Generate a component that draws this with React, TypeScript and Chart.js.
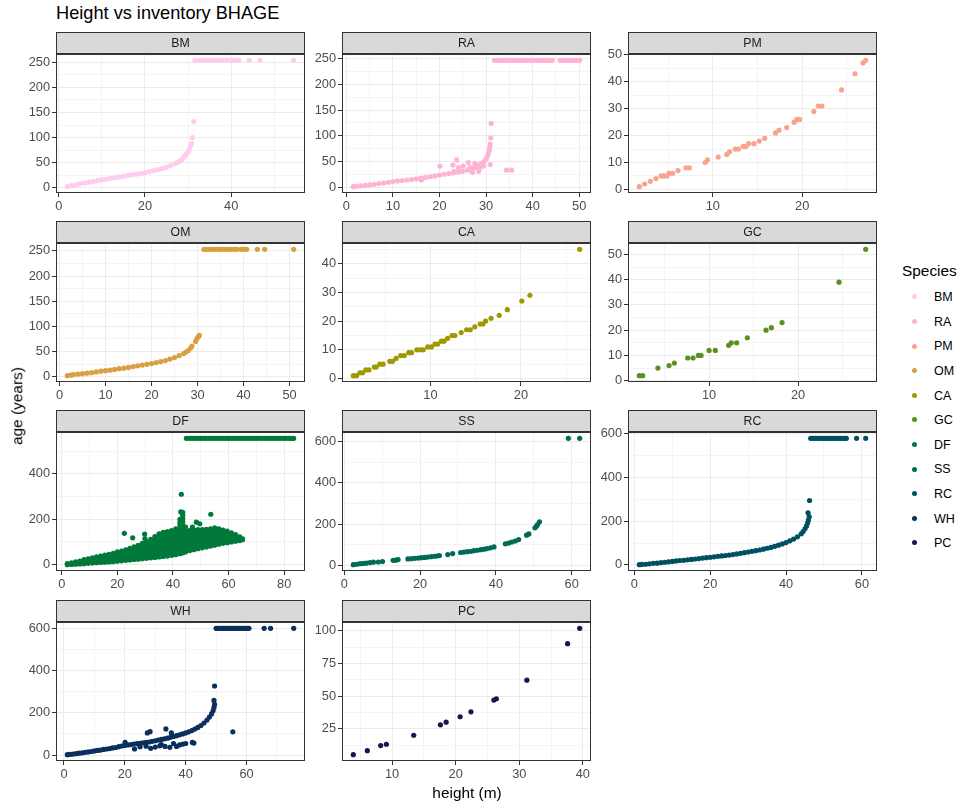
import React, { useEffect, useRef } from "react";
import { Chart, registerables } from "chart.js";
Chart.register(...registerables);

// ---------------- data ----------------
const SPECIES = ["BM", "RA", "PM", "OM", "CA", "GC", "DF", "SS", "RC", "WH", "PC"];
const COLORS = ["#FFCCF0", "#FFB3D4", "#F8A38D", "#D8A03E", "#9E9900", "#5A8F21", "#00793A", "#006B56", "#004F63", "#0A2F5C", "#1C1351"];

const BM_PTS = [
  [2, 2], [3, 4], [4, 6], [5, 8], [6, 9], [7, 11], [8, 12.5], [9, 14], [10, 16], [11, 17], [12, 19], [13, 20],
  [14, 21.5], [15, 23], [16, 24.5], [17, 26], [18, 27], [19, 28.5], [20, 30], [21, 32], [22, 34], [23, 36], [24, 38],
  [25, 41], [26, 44], [27, 48], [27.5, 50], [28, 53], [28.5, 56], [29, 61], [29.5, 66], [30, 72], [30.3, 77], [30.6, 84],
  [30.8, 88], [31, 100], [31.3, 132],
  [31.6, 254], [32.2, 254], [32.8, 254], [33.4, 254], [34, 254], [34.6, 254], [35.2, 254], [35.8, 254], [36.4, 254],
  [37, 254], [37.6, 254], [38.2, 254], [38.8, 254], [39.4, 254], [40, 254], [40.6, 254], [41.2, 254], [41.8, 254],
  [44.2, 254], [46.7, 254], [54.5, 254],
];

const RA_PTS = [
  [1.5, 1], [2, 1.5], [3, 2.5], [4, 3.5], [5, 4.5], [6, 5.5], [7, 7], [8, 8], [9, 9.5], [10, 11], [11, 12], [12, 13],
  [13, 14], [14, 15], [15, 16], [16, 17.5], [17, 19], [18, 20.5], [19, 22], [20, 23.5], [21, 25], [22, 26.5], [23, 28],
  [24, 29.5], [25, 31], [26, 33], [26.5, 34.5], [27, 36], [27.5, 38], [28, 40], [28.5, 43], [29, 46], [29.5, 50], [30, 55],
  [30.3, 60], [30.5, 66], [30.7, 72], [30.8, 78], [30.9, 84], [31, 96], [31.1, 124],
  [16.1, 14], [20.1, 41], [22.9, 43], [23.1, 31], [23.7, 53], [24.1, 38], [24.8, 31], [25.1, 41], [26.2, 48],
  [26.6, 38], [27.1, 29], [27.6, 46], [28, 41], [28.4, 31], [28.7, 38], [29.4, 41], [30.9, 44], [34.4, 33], [35.5, 33],
  [31.8, 246.7], [32.4, 246.7], [33, 246.7], [33.6, 246.7], [34.2, 246.7], [34.8, 246.7], [35.4, 246.7], [36, 246.7],
  [36.6, 246.7], [37.2, 246.7], [37.8, 246.7], [38.4, 246.7], [39, 246.7], [39.6, 246.7], [40.2, 246.7], [40.8, 246.7],
  [41.4, 246.7], [42, 246.7], [42.6, 246.7], [43.2, 246.7], [43.8, 246.7], [44.2, 246.7], [45.9, 246.7], [46.4, 246.7],
  [47, 246.7], [47.6, 246.7], [48.2, 246.7], [48.8, 246.7], [49.4, 246.7], [50.1, 246.7],
];

const PM_PTS = [
  [1.77, 1], [2.37, 2], [3.0, 3], [3.64, 4], [4.2, 5], [4.5, 5], [4.85, 5], [5.1, 6], [5.5, 6], [6.1, 7], [6.99, 8],
  [7.36, 8], [9.14, 10], [9.4, 11], [10.6, 12], [11.56, 13], [11.86, 14], [12.5, 15], [12.86, 15], [13.4, 16],
  [13.7, 16], [14, 17], [14.6, 17], [15.2, 18], [15.8, 19], [17.0, 21], [17.4, 22], [18.26, 23], [19.1, 25],
  [19.4, 26], [19.7, 26], [21.3, 29], [21.8, 31], [22.2, 31], [24.4, 37], [25.9, 43], [26.8, 47], [27.1, 48],
];

const OM_PTS = [
  [1.7, 2], [2.5, 3], [3, 4], [4, 5], [5, 6], [6, 7], [7, 8], [8, 9.5], [9, 11], [10, 12], [11, 13], [12, 14.5],
  [13, 16], [14, 17], [15, 18.5], [16, 20], [17, 21.5], [18, 23], [19, 24.5], [20, 26], [21, 28], [22, 30], [23, 32],
  [24, 35], [25, 38], [26, 42], [27, 46], [27.5, 49], [28, 52], [28.5, 57], [28.8, 61], [29.6, 70], [29.9, 76],
  [30.2, 80], [30.4, 82],
  [31.4, 253], [32, 253], [32.6, 253], [33.2, 253], [33.8, 253], [34.4, 253], [35, 253], [35.6, 253], [36.2, 253],
  [36.8, 253], [37.4, 253], [38, 253], [38.6, 253], [39.5, 253], [40.1, 253], [40.7, 253], [43.0, 253], [44.6, 253],
  [50.9, 253],
];

const CA_PTS = [
  [1.47, 1], [1.83, 1], [2.2, 2], [2.5, 2], [2.86, 3], [3.2, 3], [3.8, 4], [4.0, 4], [4.4, 5], [4.76, 5], [5.5, 6],
  [5.8, 6], [6.2, 7], [6.7, 8], [7.1, 8], [7.6, 9], [7.9, 9], [8.5, 10], [8.9, 10], [9.2, 10], [9.7, 11], [10.1, 11],
  [10.5, 12], [10.8, 12], [11.2, 13], [11.5, 13], [11.9, 14], [12.4, 15], [12.7, 15], [13.4, 16], [14.0, 17],
  [14.4, 17], [14.9, 18], [15.5, 19], [15.8, 19], [16.1, 20], [16.7, 21], [17.6, 22], [18.5, 24], [20.1, 27],
  [21.0, 29], [26.5, 45],
];

const GC_PTS = [
  [2.16, 2], [2.54, 2], [4.25, 5], [5.5, 6], [6.1, 7], [7.6, 9], [8.2, 9], [8.8, 10], [9.1, 10], [10.0, 12],
  [10.7, 12], [12.2, 14], [12.5, 15], [13.1, 15], [14.3, 17], [16.4, 20], [17.0, 21], [18.2, 23], [24.6, 39],
  [27.6, 52],
];

// DF: dense cloud, listed as [height, ages read at that height]
const DF_CLOUD: [number, number[]][] = [
  [2, [0, 5]], [3.5, [1, 8]], [5, [2, 7, 12]], [6.5, [3, 9, 16]], [8, [4, 10, 16, 22]], [9.5, [6, 12, 19, 26]],
  [11, [7, 14, 22, 30]], [12.5, [9, 17, 25, 34]], [14, [10, 19, 28, 38]], [15.5, [11, 21, 31, 42]],
  [17, [12, 23, 34, 46]], [18.5, [13, 25, 37, 50]], [20, [15, 25, 35, 45, 56]], [21.5, [17, 27, 38, 49, 60]],
  [23, [19, 29, 40, 52, 65]], [24.5, [21, 31, 43, 56, 72]], [26, [23, 33, 45, 58, 70, 78]],
  [27.5, [24, 35, 48, 61, 74, 85]], [29, [26, 37, 50, 63, 76, 94]], [30.5, [28, 40, 53, 66, 80, 92, 102]],
  [32, [30, 42, 55, 68, 82, 96, 112]], [33.5, [32, 44, 57, 71, 86, 100, 112, 124]],
  [35, [34, 46, 60, 74, 88, 102, 116, 128, 136]], [36.5, [36, 48, 62, 76, 90, 104, 118, 132, 142]],
  [38, [38, 50, 64, 78, 92, 106, 120, 134, 146]], [39.5, [41, 53, 67, 81, 95, 109, 123, 137, 150]],
  [41, [44, 56, 70, 84, 98, 112, 126, 140, 158]],
  [42.5, [48, 60, 74, 88, 102, 116, 130, 144, 158, 172, 186, 200]],
  [43.5, [52, 64, 78, 92, 106, 120, 134, 148, 162, 176, 190, 204, 218, 230]],
  [44.5, [56, 68, 82, 96, 110, 124, 138, 152, 165]], [46, [62, 74, 88, 102, 116, 130, 142, 150]],
  [47.5, [66, 78, 92, 106, 120, 134, 146, 152]], [49, [70, 82, 96, 110, 124, 138, 150, 154]],
  [50.5, [74, 86, 100, 114, 128, 142, 154]], [52, [78, 90, 104, 118, 132, 146, 155]],
  [53.5, [82, 94, 108, 122, 136, 150, 158]], [55, [86, 98, 112, 126, 140, 154, 162]],
  [56.5, [90, 102, 116, 130, 144, 158]], [58, [94, 106, 120, 134, 146, 152]], [59.5, [97, 110, 124, 138, 148]],
  [61, [100, 113, 127, 140]], [62.5, [103, 116, 128, 132]], [64, [106, 116, 122]], [65, [110, 114]],
];
const DF_PTS = [
  [22.5, 138], [25.5, 118], [29.8, 135], [29.9, 115], [43, 310], [42.8, 232], [53.6, 222], [48.4, 187], [49.6, 180],
  [47, 165],
  [44.8, 556], [45.8, 556], [46.8, 556], [47.8, 556], [48.8, 556], [49.8, 556], [50.8, 556], [51.8, 556], [52.8, 556],
  [53.8, 556], [54.8, 556], [55.8, 556], [56.8, 556], [57.8, 556], [58.8, 556], [59.8, 556], [60.8, 556], [61.8, 556],
  [62.8, 556], [63.8, 556], [64.8, 556], [65.8, 556], [66.8, 556], [67.8, 556], [68.8, 556], [69.8, 556], [70.8, 556],
  [71.8, 556], [72.8, 556], [73.8, 556], [74.8, 556], [75.8, 556], [76.8, 556], [77.8, 556], [78.8, 556], [79.8, 556],
  [80.8, 556], [81.8, 556], [82.6, 556], [83.4, 556],
];

const SS_PTS = [
  [2.4, 3], [3.3, 5], [4.2, 8], [5.1, 9], [5.9, 11], [6.8, 13], [7.7, 15], [9, 16], [10.1, 18], [12.9, 24], [13.6, 25],
  [14.2, 28], [16.8, 31], [17.7, 32], [18.6, 34], [19.5, 35], [20.3, 37], [21.2, 38], [22, 40], [22.9, 42], [23.8, 44],
  [24.5, 45], [25.1, 47], [27.3, 52], [28.6, 57], [30.7, 62], [31.6, 64], [32.5, 66], [33.4, 68], [34.2, 71], [35.1, 73],
  [36, 76], [36.9, 78], [37.7, 81], [38.6, 85], [39.5, 89], [42.5, 104], [43.4, 108], [44.2, 113], [45.1, 118], [46, 125],
  [48.1, 146], [48.7, 152], [50.3, 182], [50.7, 190], [51, 198], [51.5, 211],
  [59.1, 616], [62.1, 616],
];

const RC_PTS = [
  [1.3, 1], [2, 2], [3, 3], [4, 5], [5, 7], [6, 8], [7, 10], [8, 12], [9, 14], [10, 16], [11, 18], [12, 20], [13, 21],
  [14, 23], [15, 25], [16, 27], [17, 29], [18, 31], [19, 33], [20, 35], [21, 37], [22, 39], [23, 41], [24, 43],
  [25, 45], [26, 47], [27, 50], [28, 53], [29, 56], [30, 59], [31, 62], [32, 65], [33, 68], [34, 72], [35, 76],
  [36, 80], [37, 85], [38, 90], [39, 96], [40, 102], [41, 110], [42, 118], [43, 128], [44, 142], [44.5, 152],
  [45, 165], [45.4, 178], [45.7, 192], [45.9, 205], [46.1, 220], [45.8, 238], [46.2, 294],
  [46.5, 578], [47.1, 578], [47.7, 578], [48.3, 578], [48.9, 578], [49.5, 578], [50.1, 578], [50.7, 578], [51.3, 578],
  [51.9, 578], [52.5, 578], [53.1, 578], [53.7, 578], [54.3, 578], [54.9, 578], [55.5, 578], [55.9, 578], [58.6, 578],
  [61.0, 578],
];

const WH_PTS = [
  [1.1, 2], [2, 3], [3, 5], [4, 7], [5, 9], [6, 11], [7, 13], [8, 15], [9, 17], [10, 20], [11, 22], [12, 24], [13, 27],
  [14, 29], [15, 31], [16, 34], [17, 36], [18, 40], [19, 43], [20, 46], [21, 48], [22, 50], [23, 52], [24, 54],
  [25, 56], [26, 58], [27, 60], [28, 62], [29, 65], [30, 68], [31, 71], [32, 74], [33, 77], [34, 80], [35, 84],
  [36, 88], [37, 92], [38, 96], [39, 100], [40, 105], [41, 110], [42, 116], [43, 123], [44, 131], [45, 140], [46, 152],
  [47, 166], [47.8, 180], [48.5, 195], [49, 210], [49.3, 225], [49.5, 240], [49.3, 259], [49.5, 327],
  [20.1, 60], [23.2, 29], [27.4, 105], [28.3, 111], [33.5, 124], [35.3, 105], [35.9, 89], [28.5, 32], [31.5, 44],
  [33.2, 41], [34.8, 37], [37, 41], [39.1, 52], [42.2, 60], [42.7, 57], [55.5, 110], [25, 40], [27, 42], [30, 38],
  [32, 50], [36, 55], [38, 48], [40, 55],
  [50, 600], [50.6, 600], [51.2, 600], [51.8, 600], [52.4, 600], [53, 600], [53.6, 600], [54.2, 600], [54.8, 600],
  [55.4, 600], [56, 600], [56.6, 600], [57.2, 600], [57.8, 600], [58.4, 600], [59, 600], [59.6, 600], [60.2, 600],
  [60.8, 600], [65.8, 600], [67.9, 600], [75.5, 600],
];

const PC_PTS = [
  [3.9, 5.1], [6.1, 8.2], [8.2, 12.1], [9.1, 13.1], [13.4, 20], [17.6, 28], [18.5, 30], [20.7, 34.2], [22.4, 38],
  [26.0, 47], [26.4, 48], [31.2, 62.2], [37.6, 90.2], [39.5, 102],
];

// axis breaks (major ticks) per panel, in SPECIES order
const X_BREAKS = [
  [0, 20, 40], [0, 10, 20, 30, 40, 50], [10, 20], [0, 10, 20, 30, 40, 50], [10, 20], [10, 20],
  [0, 20, 40, 60, 80], [0, 20, 40, 60], [0, 20, 40, 60], [0, 20, 40, 60], [10, 20, 30, 40],
];
const Y_BREAKS = [
  [0, 50, 100, 150, 200, 250], [0, 50, 100, 150, 200, 250], [0, 10, 20, 30, 40, 50], [0, 50, 100, 150, 200, 250],
  [0, 10, 20, 30, 40], [0, 10, 20, 30, 40, 50], [0, 200, 400], [0, 200, 400, 600], [0, 200, 400, 600],
  [0, 200, 400, 600], [25, 50, 75, 100],
];

const TITLE = "Height vs inventory BHAGE";
const X_TITLE = "height (m)";
const Y_TITLE = "age (years)";
const LEGEND_TITLE = "Species";

// ---------------- layout ----------------
const FONT = "'Liberation Sans', Arial, Helvetica, sans-serif";
const TICK_SIZE = 12.8;
const STRIP_SIZE = 12.3;
const COL_LEFT = [56, 342, 628];
const STRIP_TOP = [32, 221, 410, 600];
const PLOT_W = 249;
const PLOT_H = 139;
const STRIP_H = 22;
const Y_AXIS_W = 46;
const X_AXIS_H = 24;
const RIGHT_PAD = 8;
const TOP_PAD = STRIP_H + 1;
const CW = Y_AXIS_W + PLOT_W + RIGHT_PAD;
const CH = TOP_PAD + PLOT_H + X_AXIS_H;

function panelPoints(i: number): number[][] {
  switch (SPECIES[i]) {
    case "BM": return BM_PTS;
    case "RA": return RA_PTS;
    case "PM": return PM_PTS;
    case "OM": return OM_PTS;
    case "CA": return CA_PTS;
    case "GC": return GC_PTS;
    case "DF": return [...DF_CLOUD.flatMap(([x, ys]) => ys.map((y) => [x, y])), ...DF_PTS];
    case "SS": return SS_PTS;
    case "RC": return RC_PTS;
    case "WH": return WH_PTS;
    default: return PC_PTS;
  }
}

function expand(vals: number[]): [number, number] {
  const lo = Math.min(...vals), hi = Math.max(...vals);
  const d = (hi - lo) * 0.05;
  return [lo - d, hi + d];
}

function tickValues(majors: number[], min: number, max: number): number[] {
  const step = majors[1] - majors[0];
  const out: number[] = [];
  for (let v = majors[0] - step / 2; v <= majors[majors.length - 1] + step / 2 + 1e-9; v += step / 2) {
    if (v >= min && v <= max) out.push(+v.toFixed(6));
  }
  return out;
}

function axisOpts(majors: number[], min: number, max: number, horizontal: boolean) {
  const isMajor = (v: number) => majors.some((m) => Math.abs(m - v) < 1e-6);
  return {
    type: "linear" as const,
    min,
    max,
    afterBuildTicks: (s: any) => {
      s.ticks = tickValues(majors, min, max).map((value) => ({ value }));
    },
    afterFit: (s: any) => {
      if (horizontal) s.height = X_AXIS_H;
      else s.width = Y_AXIS_W;
    },
    ticks: {
      autoSkip: false,
      maxRotation: 0,
      minRotation: 0,
      padding: 2,
      color: "#4D4D4D",
      font: { family: FONT, size: TICK_SIZE },
      callback: (v: number) => (isMajor(v) ? String(v) : ""),
    },
    grid: {
      drawTicks: true,
      tickLength: 4,
      color: (c: any) => (c.tick && isMajor(c.tick.value) ? "#EBEBEB" : "#F4F4F4"),
      lineWidth: 1,
      tickColor: (c: any) => (c.tick && isMajor(c.tick.value) ? "#333333" : "rgba(0,0,0,0)"),
      tickWidth: 1,
    },
    border: { display: false },
  };
}

const panelPlugin = {
  id: "facetPanel",
  afterDraw(chart: any, _args: any, opts: any) {
    const { ctx, chartArea: a } = chart;
    ctx.save();
    ctx.fillStyle = "#D9D9D9";
    ctx.fillRect(a.left, a.top - STRIP_H, a.right - a.left, STRIP_H);
    ctx.strokeStyle = "#333333";
    ctx.lineWidth = 1;
    ctx.strokeRect(a.left + 0.5, a.top - STRIP_H + 0.5, a.right - a.left - 1, STRIP_H - 1);
    ctx.strokeRect(a.left + 0.5, a.top + 0.5, a.right - a.left - 1, a.bottom - a.top - 1);
    ctx.fillStyle = "#1A1A1A";
    ctx.font = `${STRIP_SIZE}px ${FONT}`;
    ctx.textAlign = "center";
    ctx.textBaseline = "middle";
    ctx.fillText(opts.label, (a.left + a.right) / 2, a.top - STRIP_H / 2 + 0.5);
    ctx.restore();
  },
};

function Panel({ idx }: { idx: number }) {
  const ref = useRef<HTMLCanvasElement>(null);
  useEffect(() => {
    const pts = panelPoints(idx);
    const [xmin, xmax] = expand(pts.map((p) => p[0]));
    const [ymin, ymax] = expand(pts.map((p) => p[1]));
    const chart = new Chart(ref.current as HTMLCanvasElement, {
      type: "scatter",
      data: {
        datasets: [
          {
            data: pts.map(([x, y]) => ({ x, y })),
            backgroundColor: COLORS[idx],
            borderWidth: 0,
            pointRadius: 2.6,
            pointHoverRadius: 2.6,
          },
        ],
      },
      options: {
        animation: false,
        responsive: false,
        devicePixelRatio: 1,
        events: [],
        layout: { padding: { top: TOP_PAD, right: RIGHT_PAD, left: 0, bottom: 0 } },
        plugins: {
          legend: { display: false },
          tooltip: { enabled: false },
          facetPanel: { label: SPECIES[idx] },
        } as any,
        scales: {
          x: axisOpts(X_BREAKS[idx], xmin, xmax, true) as any,
          y: axisOpts(Y_BREAKS[idx], ymin, ymax, false) as any,
        },
      },
      plugins: [panelPlugin],
    });
    return () => chart.destroy();
  }, [idx]);
  const col = idx % 3;
  const row = Math.floor(idx / 3);
  return (
    <canvas
      ref={ref}
      width={CW}
      height={CH}
      style={{ position: "absolute", left: COL_LEFT[col] - Y_AXIS_W, top: STRIP_TOP[row] - 1, width: CW, height: CH }}
    />
  );
}

export default function App() {
  return (
    <div style={{ position: "absolute", left: 0, top: 0, width: 962, height: 807, background: "#FFFFFF", fontFamily: FONT, overflow: "hidden" }}>
      <div style={{ position: "absolute", left: 56, top: 4.1, fontSize: 18.2, lineHeight: 1, color: "#000", whiteSpace: "nowrap" }}>{TITLE}</div>
      {SPECIES.map((s, i) => (
        <Panel key={s} idx={i} />
      ))}
      <div style={{ position: "absolute", left: 467, top: 784.5, transform: "translateX(-50%)", fontSize: 15.4, lineHeight: 1, color: "#000", whiteSpace: "nowrap" }}>{X_TITLE}</div>
      <div style={{ position: "absolute", left: 17, top: 406, transform: "translate(-50%,-50%) rotate(-90deg)", fontSize: 15.4, lineHeight: 1, color: "#000", whiteSpace: "nowrap" }}>{Y_TITLE}</div>
      <div style={{ position: "absolute", left: 902, top: 262.5, fontSize: 15.4, lineHeight: 1, color: "#000", whiteSpace: "nowrap" }}>{LEGEND_TITLE}</div>
      {SPECIES.map((s, i) => (
        <React.Fragment key={"lg" + s}>
          <div style={{ position: "absolute", left: 914 - 2.5, top: 296.9 + i * 24.6 - 2.5, width: 5, height: 5, borderRadius: "50%", background: COLORS[i] }} />
          <div style={{ position: "absolute", left: 934, top: 291.1 + i * 24.6, fontSize: 12.5, lineHeight: 1, color: "#000", whiteSpace: "nowrap" }}>{s}</div>
        </React.Fragment>
      ))}
    </div>
  );
}
